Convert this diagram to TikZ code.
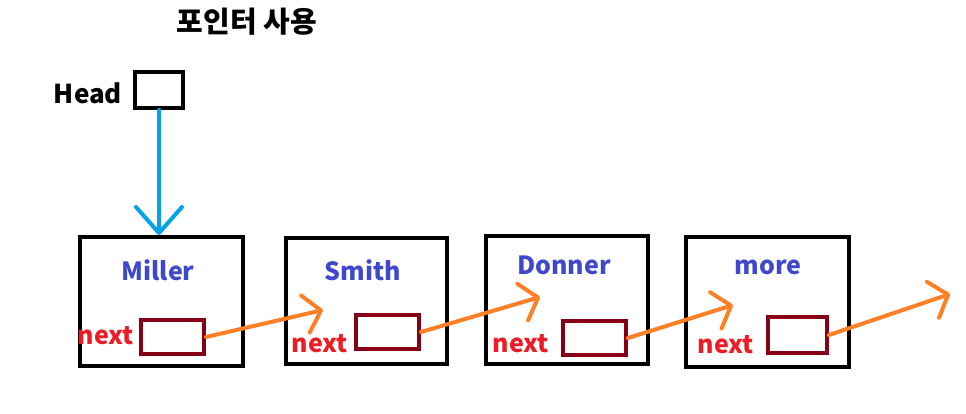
\documentclass[tikz,border=0pt]{standalone}
\usepackage{fontspec}
\setmainfont{Noto Sans CJK KR}
\usetikzlibrary{arrows.meta}
\definecolor{headblue}{HTML}{00A2E8}
\definecolor{namecol}{HTML}{3F48CC}
\definecolor{nextred}{HTML}{ED1C24}
\definecolor{ptrred}{HTML}{880015}
\definecolor{arroworange}{HTML}{FF7F27}
\tikzset{
  nodebox/.style={draw, line width=4pt, inner sep=0pt},
  ptrbox/.style={draw=ptrred, line width=4pt, inner sep=0pt, minimum width=63pt, minimum height=34pt},
  namelbl/.style={text=namecol, font=\bfseries\fontsize{25}{25}\selectfont},
  nextlbl/.style={text=nextred, font=\bfseries\fontsize{25}{25}\selectfont},
  nextarrow/.style={arroworange, line width=4pt, line cap=round,
    -{Straight Barb[length=16pt,width=38pt,round]}},
}
\begin{document}
\begin{tikzpicture}[x=1pt,y=-1pt]
\useasboundingbox (0,0) rectangle (966,414);

\node (title) at (247,22) {\bfseries\fontsize{29}{29}\selectfont 포인터 사용};
\node (headlbl) at (88,93) {\bfseries\fontsize{26}{26}\selectfont Head};
\node [nodebox, minimum width=48pt, minimum height=36pt] (head) at (159,90) {};

\node [nodebox, minimum width=163pt, minimum height=129pt] (n1) at (161.5,301.5) {};
\node [nodebox, minimum width=161pt, minimum height=126pt] (n2) at (366.5,301) {};
\node [nodebox, minimum width=162pt, minimum height=128pt] (n3) at (567,300) {};
\node [nodebox, minimum width=163pt, minimum height=130pt] (n4) at (767.5,302) {};

\node [namelbl] (m1) at (158,270) {Miller};
\node [namelbl] (m2) at (363,270) {Smith};
\node [namelbl] (m3) at (564,265) {Donner};
\node [namelbl] (m4) at (768,267) {more};

\node [nextlbl] (x1) at (106,336) {next};
\node [nextlbl] (x2) at (320,344) {next};
\node [nextlbl] (x3) at (521,344) {next};
\node [nextlbl] (x4) at (726,345) {next};

\node [ptrbox] (p1) at (172.5,337) {};
\node [ptrbox] (p2) at (387.5,332) {};
\node [ptrbox] (p3) at (594.5,338) {};
\node [ptrbox, minimum width=59pt, minimum height=36pt] (p4) at (797.5,335) {};

\coordinate (t1) at (323,310);
\coordinate (t2) at (540,297);
\coordinate (t3) at (733,305);
\coordinate (t4) at (950,294);

\draw [headblue, line width=4pt, line cap=round, -{Straight Barb[length=26pt,width=46pt,round]}]
      (head.south) -- (head.south |- n1.north);

\draw [nextarrow] (p1.east) -- (t1);
\draw [nextarrow] (p2.east) -- (t2);
\draw [nextarrow] (p3.east) -- (t3);
\draw [nextarrow] (p4.east) -- (t4);
\end{tikzpicture}
\end{document}
